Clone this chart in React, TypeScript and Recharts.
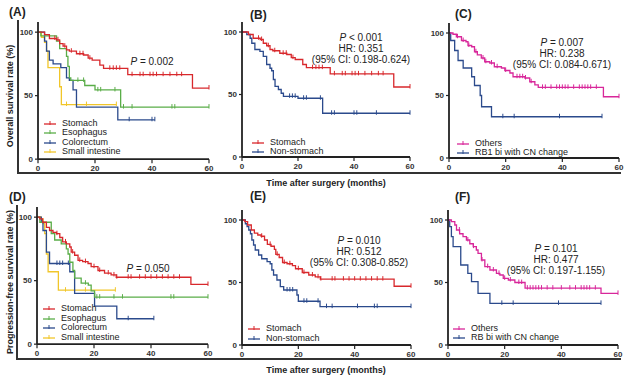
import { LineChart, Line, XAxis, YAxis } from "recharts";

type Step = [number, number];

const FONT = "Arial, 'Liberation Sans', sans-serif";
const RED = "#d8282c";
const GREEN = "#5aad48";
const BLUE = "#2b4a8c";
const YELLOW = "#f1c62a";
const MAGENTA = "#d8279a";
const INK = "#222";
const Y_MAX = 108;

const xTicks = [0, 20, 40, 60];
const yTicks = [0, 50, 100];

// Overall survival (events = [month, survival %], censors = months)
const stomachOsEvents: Step[] = [[2.3, 98], [4, 95], [6.5, 94], [7.6, 91], [8.8, 89], [10, 86], [11, 85], [13.5, 83], [16, 82], [17.6, 79.5], [19, 78], [21.7, 74], [23, 71.5], [31.5, 66.5], [54.2, 56]];
const stomachOsCensors = [5.9, 7, 9.4, 11.7, 14.7, 15.8, 18.2, 25.2, 26.4, 27.5, 28.7, 33, 35.8, 36.9, 39.3, 40.4, 41.6, 43.9, 46.3, 48.7, 50.4, 60];
const esophagusOsEvents: Step[] = [[1, 97], [6.5, 93], [7.6, 87], [10, 81], [10.5, 73], [11, 64], [11.5, 62], [16.4, 58], [20, 54.5], [29, 41]];
const esophagusOsCensors = [14, 16, 21, 22, 27, 30, 33, 47, 48, 60];
const colorectumOsEvents: Step[] = [[2.3, 93], [3, 85], [4, 78], [5.3, 75], [8, 72], [10, 64], [11, 62], [12.3, 54.5], [13.5, 41], [28, 31]];
const colorectumOsCensors = [32, 40, 41];
const smallIntOsEvents: Step[] = [[1.2, 96], [2.3, 92], [3, 85], [3.5, 72], [7.6, 57], [8.2, 43]];
const smallIntOsCensors = [10, 17, 27.5];
const nonStomachOsEvents: Step[] = [[1.7, 98], [2.9, 95], [3.5, 91], [4.6, 86], [6.4, 84.5], [7.6, 80.5], [8.8, 74], [10, 71], [10.6, 69], [11.2, 62], [11.8, 56.5], [13, 54], [14, 51], [14.8, 48.5], [20, 47], [28.8, 35]];
const nonStomachOsCensors = [17, 18, 19, 22, 23, 28, 32, 33, 40, 41, 48, 60];
const othersOsEvents: Step[] = [[1.4, 99], [2.6, 97], [4.4, 94], [6, 93], [6.7, 90], [8, 89], [9, 85], [10, 82.5], [11.4, 80], [12.6, 77], [14.4, 76], [16, 73], [18.5, 72], [19.7, 70], [21.5, 68], [22.6, 65], [26.8, 64], [28.5, 61], [30.3, 58.5], [31.5, 56.5], [54.5, 49]];
const othersOsCensors = [3, 5, 7, 9.5, 12, 13, 15, 17, 20, 24, 25, 26, 27, 29, 33, 34, 36, 38, 39, 40, 41, 42, 44, 46, 47, 48, 49, 50, 52, 60];
const rb1OsEvents: Step[] = [[0.6, 94], [2, 86], [3.2, 78], [5, 72], [8, 65], [9, 58], [11, 50], [11.5, 41], [15, 33]];
const rb1OsCensors = [19, 23, 39, 54];

// Progression-free survival
const stomachPfsEvents: Step[] = [[1, 98.7], [2, 96], [3.3, 92], [4.4, 89.5], [5.6, 88], [6.8, 87], [8, 84], [9, 80.5], [10.3, 79], [11.5, 76.5], [12, 72.5], [13.2, 70], [14.4, 66], [16, 65], [17.9, 63.5], [19, 61], [21.4, 58], [23.7, 56], [26, 54.5], [27.8, 52.7], [54, 47]];
const stomachPfsCensors = [7, 10, 12.5, 15, 17, 20, 22, 25, 27, 28, 32, 33, 36, 38, 40, 42, 44, 46, 48, 50, 60];
const esophagusPfsEvents: Step[] = [[1, 96], [5, 87], [6.2, 82], [8.5, 79], [10.3, 75], [10.9, 71], [11.5, 64.5], [12.6, 58], [13.2, 52], [15.5, 48], [18, 46.5], [19, 42], [20.2, 37]];
const esophagusPfsCensors = [17, 21, 22, 27, 30, 47, 48, 60];
const colorectumPfsEvents: Step[] = [[1.5, 96], [2.1, 89.5], [3.3, 72.5], [4.4, 63.5], [11.5, 57], [13.2, 40], [20.2, 30], [28, 20]];
const colorectumPfsCensors = [7, 8, 9, 11, 32, 41];
const smallIntPfsEvents: Step[] = [[1.5, 98.7], [2.1, 95], [2.7, 87], [3.3, 71], [3.9, 57], [7.5, 42.5]];
const smallIntPfsCensors = [10, 17, 27.5];
const nonStomachPfsEvents: Step[] = [[1.2, 97], [1.8, 94.7], [2.4, 92], [3, 89], [3.5, 84], [4.1, 80], [4.7, 76], [5.9, 72], [7, 69], [8.9, 66.7], [10, 65], [10.6, 60], [11.2, 56], [12.4, 52], [13.6, 46.7], [14.8, 44], [19.5, 40], [20, 35], [27.7, 30.7]];
const nonStomachPfsCensors = [16, 17, 18, 22, 23, 27, 30, 32, 41, 47, 48, 60];
const othersPfsEvents: Step[] = [[1.2, 98.7], [2.4, 96], [3, 92], [4.1, 89], [5.3, 86.7], [6.5, 84], [7.7, 81], [8.9, 78.7], [10, 76], [10.6, 73.3], [11.8, 68], [13, 62.7], [14.8, 60], [17.1, 57.3], [18.3, 56], [19.5, 53.3], [21.3, 52], [23.6, 50], [27.2, 45.5], [54, 41.3]];
const othersPfsCensors = [4, 7, 9, 12, 14, 16, 18, 20, 22, 25, 26, 28, 29, 30, 31, 32, 33, 35, 37, 40, 43, 45, 47, 48, 49, 50, 52, 60];
const rbPfsEvents: Step[] = [[0.6, 94.7], [1.2, 86.7], [1.8, 78.7], [4.5, 64], [7, 57.3], [8.3, 50.7], [10.6, 41.3], [14.8, 33.3]];
const rbPfsCensors = [19, 23, 39, 54];

function buildCurve(events: Step[], censors: number[]) {
  const all = [
    ...events.map(([t, s]) => ({ t, s, ev: true })),
    ...censors.map((t) => ({ t, s: 0, ev: false })),
  ].sort((a, b) => a.t - b.t || (a.ev ? -1 : 1));
  const pts = [{ t: 0, s: 100, c: false }];
  let cur = 100;
  for (const p of all) {
    if (p.ev) cur = p.s;
    pts.push({ t: p.t, s: cur, c: !p.ev });
  }
  return pts;
}

const censorDot = (color: string) => (props: any) => {
  const { cx, cy, payload, index } = props;
  if (!payload || !payload.c || cx == null) return <g key={index} />;
  return <line key={index} x1={cx} x2={cx} y1={cy - 3} y2={cy + 1.5} stroke={color} strokeWidth={1} />;
};

type Series = { name: string; color: string; events: Step[]; censors: number[] };
type Geom = { left: number; right: number; y0: number; y100: number };

function Panel({ g, series }: { g: Geom; series: Series[] }) {
  const plotH = g.y0 - g.y100;
  const top = g.y0 - (plotH * Y_MAX) / 100;
  const W = g.right - g.left + 30 + 8;
  const H = g.y0 - top + 24 + 2;
  return (
    <div style={{ position: "absolute", left: g.left - 30, top: top - 2 }}>
      <LineChart width={W} height={H} margin={{ top: 2, right: 8, bottom: 0, left: 0 }}>
        <XAxis
          type="number"
          dataKey="t"
          domain={[0, 60]}
          ticks={xTicks}
          height={24}
          tickSize={4}
          axisLine={{ stroke: INK, strokeWidth: 1.8 }}
          tickLine={{ stroke: INK, strokeWidth: 1.2 }}
          tick={{ fontSize: 8, fontWeight: 700, fill: "#333", fontFamily: FONT }}
        />
        <YAxis
          type="number"
          domain={[0, Y_MAX]}
          ticks={yTicks}
          width={30}
          tickSize={3}
          axisLine={{ stroke: INK, strokeWidth: 1.8 }}
          tickLine={{ stroke: INK, strokeWidth: 1.2 }}
          tick={{ fontSize: 8, fontWeight: 700, fill: "#333", fontFamily: FONT }}
        />
        {series.map((s) => (
          <Line
            key={s.name}
            data={buildCurve(s.events, s.censors)}
            dataKey="s"
            type="stepAfter"
            stroke={s.color}
            strokeWidth={1.3}
            dot={censorDot(s.color)}
            activeDot={false}
            isAnimationActive={false}
          />
        ))}
      </LineChart>
    </div>
  );
}

function Legend({ x, y, gap, series }: { x: number; y: number; gap: number; series: Series[] }) {
  return (
    <>
      {series.map((s, i) => (
        <div
          key={s.name}
          style={{ position: "absolute", left: x, top: y + i * gap - 6, height: 12, display: "flex", alignItems: "center", fontSize: 9, color: INK, fontFamily: FONT, whiteSpace: "nowrap" }}
        >
          <svg width={16} height={8} style={{ marginRight: 3 }}>
            <line x1={1} x2={13} y1={5} y2={5} stroke={s.color} strokeWidth={1.3} />
            <line x1={7} x2={7} y1={2} y2={6} stroke={s.color} strokeWidth={1} />
          </svg>
          {s.name}
        </div>
      ))}
    </>
  );
}

function Stats({ cx, cy, lines }: { cx: number; cy: number; lines: string[] }) {
  return (
    <div style={{ position: "absolute", left: cx - 70, top: cy - 6, width: 140, textAlign: "center", fontSize: 10, lineHeight: "11px", color: INK, fontFamily: FONT }}>
      {lines.map((l, i) => (
        <div key={i}>
          {i === 0 ? (
            <>
              <i>P</i>
              {l}
            </>
          ) : (
            l
          )}
        </div>
      ))}
    </div>
  );
}

function Label({ x, y, text }: { x: number; y: number; text: string }) {
  return (
    <div style={{ position: "absolute", left: x, top: y - 8, fontSize: 12, fontWeight: 700, color: INK, fontFamily: FONT }}>{text}</div>
  );
}

function YTitle({ cy, text }: { cy: number; text: string }) {
  return (
    <div style={{ position: "absolute", left: 10, top: cy, transform: "translate(-50%, -50%) rotate(-90deg)", fontSize: 9, fontWeight: 700, color: INK, fontFamily: FONT, whiteSpace: "nowrap" }}>
      {text}
    </div>
  );
}

function XTitle({ cy }: { cy: number }) {
  return (
    <div style={{ position: "absolute", left: 326, top: cy, transform: "translate(-50%, -50%)", fontSize: 9, fontWeight: 700, color: INK, fontFamily: FONT, whiteSpace: "nowrap" }}>
      Time after surgery (months)
    </div>
  );
}

const sA: Series[] = [
  { name: "Stomach", color: RED, events: stomachOsEvents, censors: stomachOsCensors },
  { name: "Esophagus", color: GREEN, events: esophagusOsEvents, censors: esophagusOsCensors },
  { name: "Colorectum", color: BLUE, events: colorectumOsEvents, censors: colorectumOsCensors },
  { name: "Small intestine", color: YELLOW, events: smallIntOsEvents, censors: smallIntOsCensors },
];
const sB: Series[] = [
  { name: "Stomach", color: RED, events: stomachOsEvents, censors: stomachOsCensors },
  { name: "Non-stomach", color: BLUE, events: nonStomachOsEvents, censors: nonStomachOsCensors },
];
const sC: Series[] = [
  { name: "Others", color: MAGENTA, events: othersOsEvents, censors: othersOsCensors },
  { name: "RB1 bi with CN change", color: BLUE, events: rb1OsEvents, censors: rb1OsCensors },
];
const sD: Series[] = [
  { name: "Stomach", color: RED, events: stomachPfsEvents, censors: stomachPfsCensors },
  { name: "Esophagus", color: GREEN, events: esophagusPfsEvents, censors: esophagusPfsCensors },
  { name: "Colorectum", color: BLUE, events: colorectumPfsEvents, censors: colorectumPfsCensors },
  { name: "Small intestine", color: YELLOW, events: smallIntPfsEvents, censors: smallIntPfsCensors },
];
const sE: Series[] = [
  { name: "Stomach", color: RED, events: stomachPfsEvents, censors: stomachPfsCensors },
  { name: "Non-stomach", color: BLUE, events: nonStomachPfsEvents, censors: nonStomachPfsCensors },
];
const sF: Series[] = [
  { name: "Others", color: MAGENTA, events: othersPfsEvents, censors: othersPfsCensors },
  { name: "RB bi with CN change", color: BLUE, events: rbPfsEvents, censors: rbPfsCensors },
];

// draw the lowest-risk curve last (on top), like the figure
const rev = (s: Series[]) => [...s].reverse();

export default function App() {
  return (
    <div style={{ position: "absolute", left: 0, top: 0, width: 630, height: 379, background: "#fff", overflow: "hidden" }}>
      {/* outer frames */}
      <div style={{ position: "absolute", left: 17, top: 20, width: 2, height: 154, background: "#333" }} />
      <div style={{ position: "absolute", left: 17, top: 172, width: 604, height: 2, background: "#333" }} />
      <div style={{ position: "absolute", left: 16, top: 205, width: 2, height: 155, background: "#333" }} />
      <div style={{ position: "absolute", left: 16, top: 358, width: 605, height: 2, background: "#333" }} />

      <Panel g={{ left: 38, right: 209, y0: 159, y100: 32 }} series={rev(sA)} />
      <Panel g={{ left: 242, right: 410, y0: 157, y100: 32 }} series={rev(sB)} />
      <Panel g={{ left: 449, right: 619, y0: 158, y100: 33 }} series={rev(sC)} />
      <Panel g={{ left: 37, right: 208, y0: 344, y100: 217 }} series={rev(sD)} />
      <Panel g={{ left: 242, right: 411, y0: 345, y100: 220 }} series={rev(sE)} />
      <Panel g={{ left: 448, right: 618, y0: 345, y100: 220 }} series={rev(sF)} />

      <Legend x={43} y={123} gap={9.4} series={sA} />
      <Legend x={251} y={142} gap={9.4} series={sB} />
      <Legend x={456} y={143} gap={8.6} series={sC} />
      <Legend x={42} y={308} gap={9.6} series={sD} />
      <Legend x={247} y={328} gap={9.6} series={sE} />
      <Legend x={452} y={328} gap={9.4} series={sF} />

      <Stats cx={152} cy={62} lines={[" = 0.002"]} />
      <Stats cx={361} cy={38} lines={[" < 0.001", "HR: 0.351", "(95% CI: 0.198-0.624)"]} />
      <Stats cx={562} cy={43} lines={[" = 0.007", "HR: 0.238", "(95% CI: 0.084-0.671)"]} />
      <Stats cx={148} cy={269} lines={[" = 0.050"]} />
      <Stats cx={359} cy={241} lines={[" = 0.010", "HR: 0.512", "(95% CI: 0.308-0.852)"]} />
      <Stats cx={556} cy={249} lines={[" = 0.101", "HR: 0.477", "(95% CI: 0.197-1.155)"]} />

      <Label x={9} y={13} text="(A)" />
      <Label x={250} y={16} text="(B)" />
      <Label x={455} y={15} text="(C)" />
      <Label x={9} y={198} text="(D)" />
      <Label x={250} y={197} text="(E)" />
      <Label x={455} y={198} text="(F)" />

      <YTitle cy={96} text="Overall survival rate (%)" />
      <YTitle cy={282} text="Progression-free survival rate (%)" />
      <XTitle cy={183} />
      <XTitle cy={370} />
    </div>
  );
}
